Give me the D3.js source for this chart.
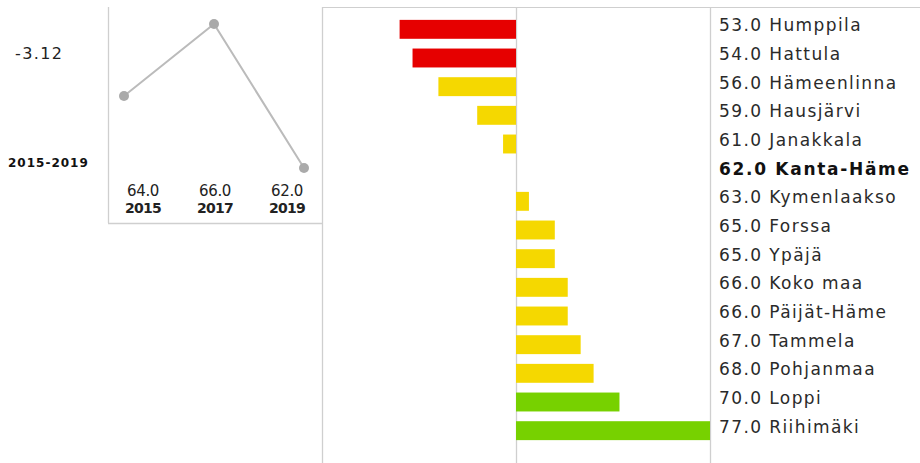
<!DOCTYPE html>
<html><head><meta charset="utf-8">
<script src="https://cdn.jsdelivr.net/npm/d3@7"></script>
<style>body{margin:0;background:#fff}svg{display:block}</style>
</head><body>
<svg id="c" width="920" height="463"></svg>
<script>
const regions = ["Humppila","Hattula","Hämeenlinna","Hausjärvi","Janakkala","Kanta-Häme","Kymenlaakso","Forssa","Ypäjä","Koko maa","Päijät-Häme","Tammela","Pohjanmaa","Loppi","Riihimäki"];
const values = [53,54,56,59,61,62,63,65,65,66,66,67,68,70,77];
const colorClass = ["red","red","yellow","yellow","yellow","none","yellow","yellow","yellow","yellow","yellow","yellow","yellow","green","green"];
const focusRegion = "Kanta-Häme";
const trendYears = ["2015","2017","2019"];
const trendValues = [64,66,62];
const changeText = "-3.12";
const periodText = "2015-2019";

const palette = {red:"#e60000", yellow:"#f5d800", green:"#77d100", none:"none"};
const svg = d3.select("#c");
const font = "DejaVu Sans, sans-serif";
const ref = values[regions.indexOf(focusRegion)];

// bar chart
const x = d3.scaleLinear().domain([ref-15, ref+15]).range([322, 710]);
const y = d3.scaleBand().domain(regions).range([15, 445]).paddingInner(0.34).paddingOuter(0.17);

const gridCol = "#cfcfcf";
svg.append("line").attr("x1",322).attr("x2",920).attr("y1",7.5).attr("y2",7.5).attr("stroke",gridCol);
[ref-15, ref, ref+15].forEach(v=>{
  svg.append("line").attr("x1",x(v)+0.5).attr("x2",x(v)+0.5).attr("y1",7).attr("y2",463).attr("stroke",gridCol).attr("stroke-width",1.3);
});

svg.selectAll("rect.bar").data(regions).enter().append("rect").attr("class","bar")
  .attr("x",(d,i)=>Math.min(x(values[i]),x(ref)))
  .attr("width",(d,i)=>Math.abs(x(values[i])-x(ref)))
  .attr("y",d=>y(d)).attr("height",y.bandwidth())
  .attr("fill",(d,i)=>palette[colorClass[i]]);

svg.selectAll("text.lab").data(regions).enter().append("text").attr("class","lab")
  .attr("x",719).attr("y",d=>y(d)+y.bandwidth()/2+2)
  .attr("font-family",font).attr("font-size",17)
  .attr("letter-spacing",d=>d===focusRegion?"1.7":"1.4")
  .attr("font-weight",d=>d===focusRegion?"bold":"normal")
  .attr("fill",d=>d===focusRegion?"#111":"#2a2a2a")
  .text((d,i)=>values[i].toFixed(1)+" "+d);

// inset trend chart
svg.append("line").attr("x1",108.5).attr("x2",108.5).attr("y1",7).attr("y2",223).attr("stroke",gridCol).attr("stroke-width",1.3);
svg.append("line").attr("x1",108).attr("x2",322).attr("y1",223.5).attr("y2",223.5).attr("stroke",gridCol).attr("stroke-width",1.3);
const tx = d3.scalePoint().domain(trendYears).range([124,304]);
const lx = d3.scalePoint().domain(trendYears).range([143,287]);
const ty = d3.scaleLinear().domain([62,66]).range([168,24]);
svg.append("path").datum(trendValues)
  .attr("d", d3.line().x((d,i)=>tx(trendYears[i])).y(d=>ty(d)))
  .attr("fill","none").attr("stroke","#bbb").attr("stroke-width",2);
svg.selectAll("circle.pt").data(trendValues).enter().append("circle")
  .attr("cx",(d,i)=>tx(trendYears[i])).attr("cy",d=>ty(d)).attr("r",5).attr("fill","#aaa");
svg.selectAll("text.tv").data(trendValues).enter().append("text")
  .attr("x",(d,i)=>lx(trendYears[i])).attr("y",196).attr("text-anchor","middle")
  .attr("font-family",font).attr("font-size",15).attr("letter-spacing","-0.4").attr("fill","#222")
  .text(d=>d.toFixed(1));
svg.selectAll("text.ty").data(trendYears).enter().append("text")
  .attr("x",d=>lx(d)).attr("y",213).attr("text-anchor","middle")
  .attr("font-family",font).attr("font-size",14).attr("font-weight","bold").attr("letter-spacing","-0.8").attr("fill","#222")
  .text(d=>d);
svg.append("text").attr("x",15).attr("y",59).attr("font-family",font).attr("font-size",16).attr("letter-spacing","1.4").attr("fill","#222").text(changeText);
svg.append("text").attr("x",8).attr("y",167).attr("font-family",font).attr("font-size",12).attr("font-weight","bold")
  .attr("letter-spacing","1").attr("fill","#111").text(periodText);
</script>
</body></html>
